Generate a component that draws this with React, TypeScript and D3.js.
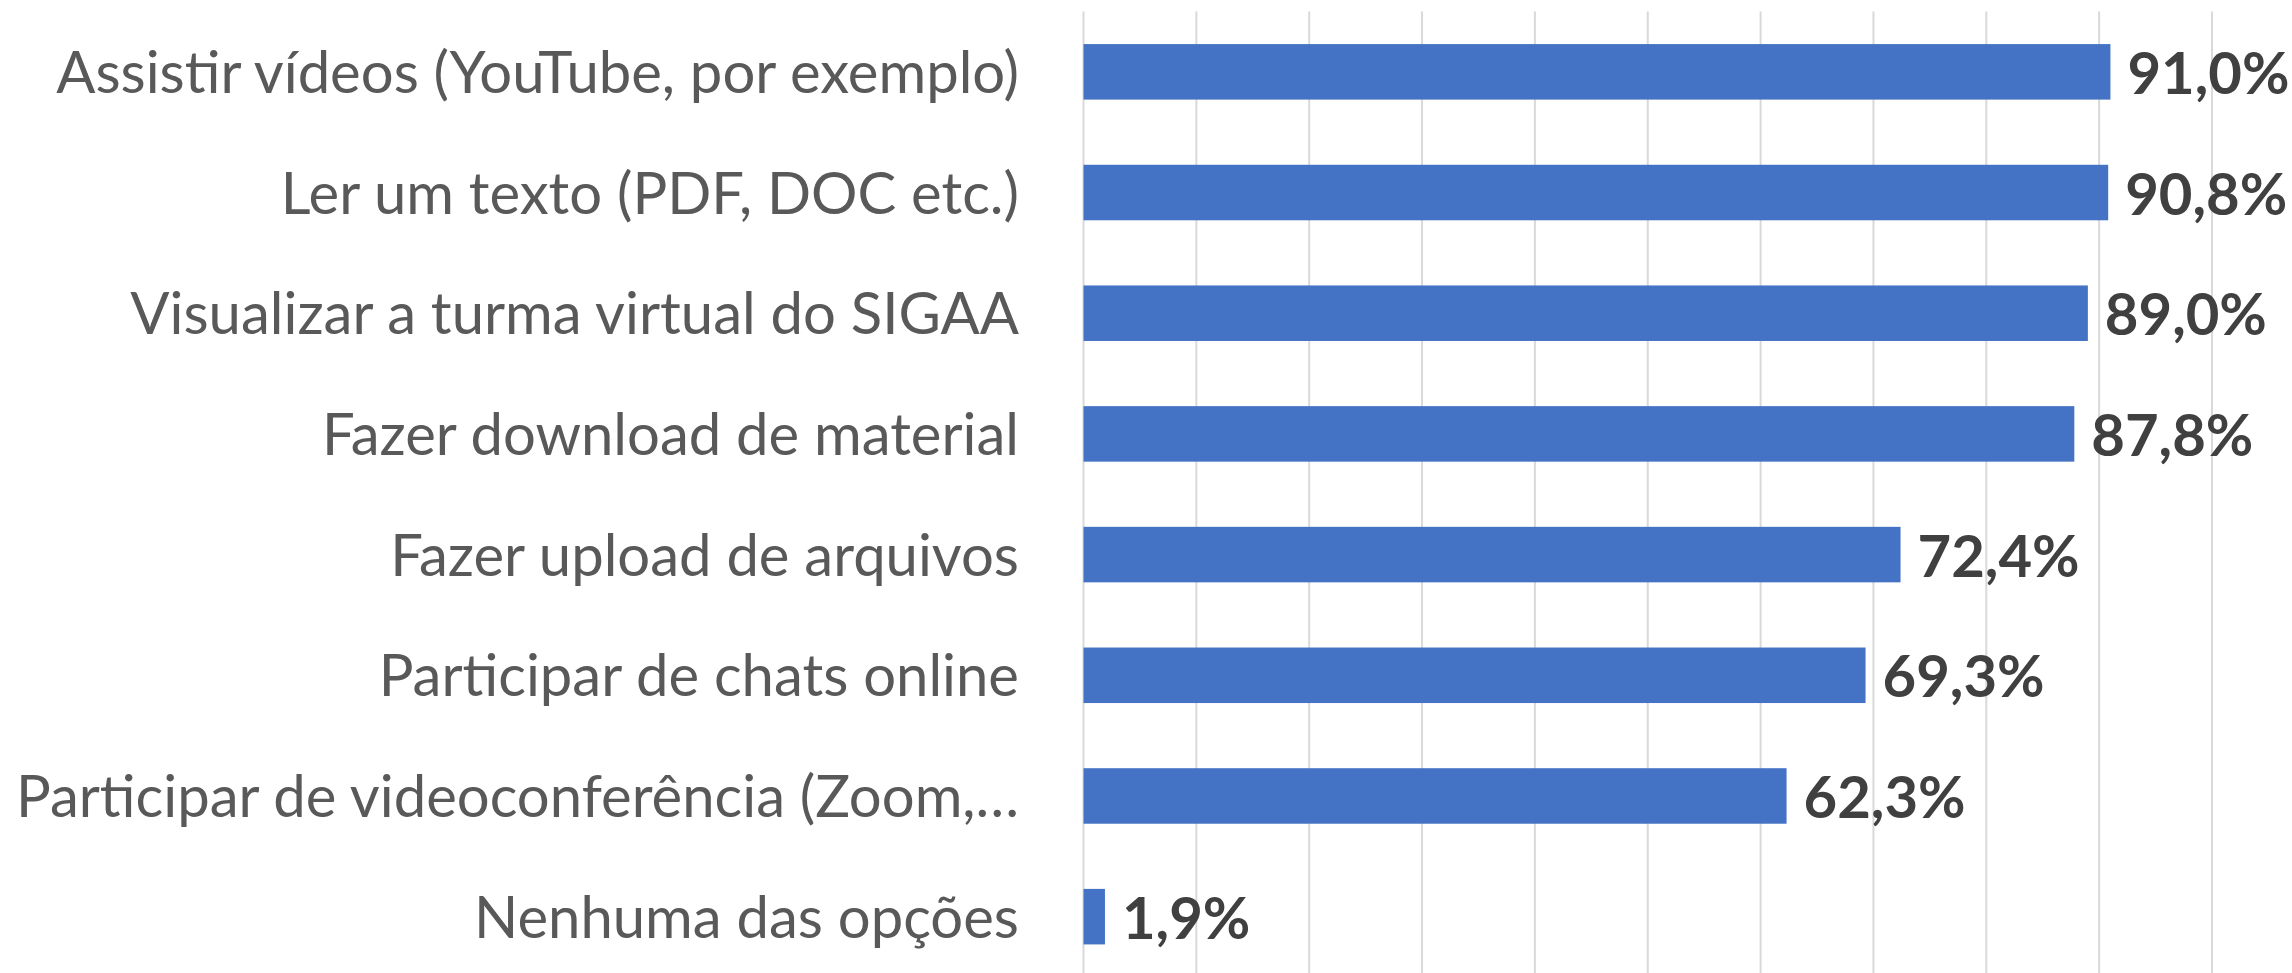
import React from "react";
import * as d3 from "d3";

// categories, top to bottom
const categories = [
  "Assistir vídeos (YouTube, por exemplo)",
  "Ler um texto (PDF, DOC etc.)",
  "Visualizar a turma virtual do SIGAA",
  "Fazer download de material",
  "Fazer upload de arquivos",
  "Participar de chats online",
  "Participar de videoconferência (Zoom,…",
  "Nenhuma das opções",
];

// share of answers, in %
const values = [91.0, 90.8, 89.0, 87.8, 72.4, 69.3, 62.3, 1.9];

// gridline positions, in %
const gridTicks = [0, 10, 20, 30, 40, 50, 60, 70, 80, 90, 100];

const App = () => {
  const width = 2292;
  const height = 973;
  const margin = { top: 11.5, right: 80, bottom: -4, left: 1083.5 };

  // x scale: 0 to 100 %
  const x = d3
    .scaleLinear()
    .domain([0, 100])
    .range([margin.left, margin.left + 1128.5]);

  // y scale: one band per category
  const y = d3
    .scaleBand()
    .domain(categories)
    .range([margin.top, height - margin.bottom])
    .paddingInner(0.54)
    .paddingOuter(0.27);

  const fmt = (v) => v.toFixed(1).replace(".", ",") + "%";

  return (
    <div style={{ position: "absolute", left: 0, top: 0 }}>
      <svg width={width} height={height} style={{ display: "block" }}>
        <rect width={width} height={height} fill="#ffffff" />
        {/* vertical gridlines */}
        {gridTicks.map((t) => (
          <line
            key={t}
            x1={x(t)}
            x2={x(t)}
            y1={margin.top}
            y2={height}
            stroke="#d9d9d9"
            strokeWidth={2}
          />
        ))}
        {/* bars */}
        {categories.map((c, i) => (
          <rect
            key={c}
            x={x(0)}
            y={y(c)}
            width={x(values[i]) - x(0)}
            height={y.bandwidth()}
            fill="#4472c4"
          />
        ))}
        {/* category labels */}
        {categories.map((c) => (
          <text
            key={c}
            x={1019}
            y={y(c) + y.bandwidth() / 2 + 21}
            textAnchor="end"
            fontFamily="Lato, sans-serif"
            fontSize={58}
            fill="#595959"
          >
            {c}
          </text>
        ))}
        {/* value labels */}
        {categories.map((c, i) => (
          <text
            key={c}
            x={x(values[i]) + 17}
            y={y(c) + y.bandwidth() / 2 + 22}
            fontFamily="Lato, sans-serif"
            fontWeight={700}
            fontSize={58}
            fill="#404040"
          >
            {fmt(values[i])}
          </text>
        ))}
      </svg>
    </div>
  );
};

export default App;
